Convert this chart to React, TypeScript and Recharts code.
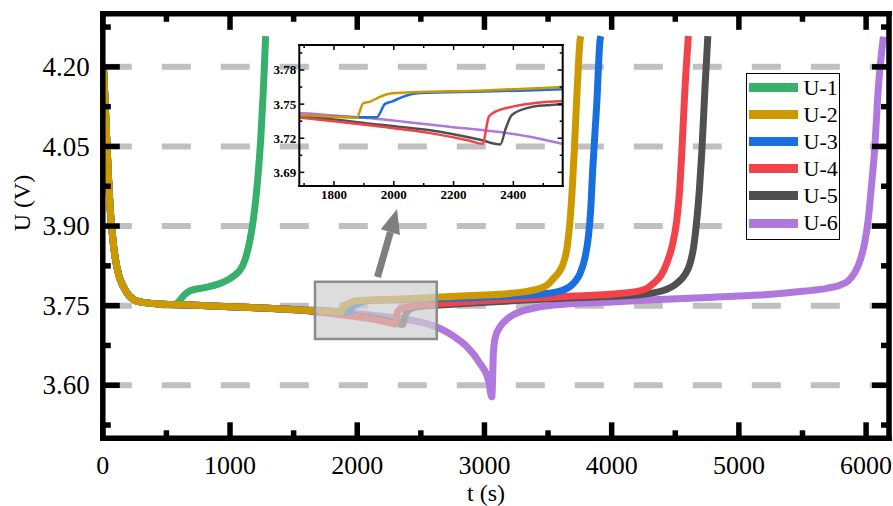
import React from 'react';
import { CartesianGrid, Line, LineChart, ReferenceArea, XAxis, YAxis } from 'recharts';

type Pt = [number, number];

// discharge voltage U (V) against time t (s)
const START: Pt[] = [
  [5, 4.2], [15, 4.15], [31, 4.062], [45, 3.99], [57, 3.936], [75, 3.885], [96, 3.842],
  [125, 3.808], [161, 3.786], [210, 3.768], [292, 3.757], [450, 3.753],
];
const MID: Pt[] = [[686, 3.751], [1000, 3.748], [1300, 3.745], [1550, 3.742]];

const U1: Pt[] = [
  ...START,
  [560, 3.752], [594, 3.757], [640, 3.77], [686, 3.778], [800, 3.784], [900, 3.79], [1000, 3.801],
  [1050, 3.81], [1079, 3.817], [1120, 3.838], [1157, 3.874], [1185, 3.915], [1210, 3.968],
  [1241, 4.062], [1262, 4.156], [1280, 4.258],
];
const U2: Pt[] = [
  ...START, ...MID,
  [1684, 3.7405], [1800, 3.739], [1876, 3.738], [1898, 3.7508], [1921, 3.7522], [1950, 3.756],
  [1977, 3.7587], [2010, 3.7597], [2300, 3.762], [2565, 3.765], [2900, 3.769], [3200, 3.773],
  [3400, 3.78], [3500, 3.79], [3542, 3.801], [3585, 3.813], [3620, 3.83], [3650, 3.86],
  [3673, 3.911], [3690, 3.97], [3705, 4.037], [3730, 4.163], [3752, 4.251], [3758, 4.258],
];
const U3: Pt[] = [
  ...START, ...MID,
  [1684, 3.74], [1800, 3.739], [1943, 3.7385], [1971, 3.7502], [1994, 3.7522], [2038, 3.7572],
  [2088, 3.7597], [2300, 3.761], [2565, 3.763], [2900, 3.765], [3200, 3.768], [3450, 3.772],
  [3600, 3.778], [3673, 3.786], [3720, 3.798], [3752, 3.811], [3790, 3.84], [3817, 3.88],
  [3835, 3.93], [3851, 4.006], [3883, 4.131], [3909, 4.251], [3915, 4.258],
];
const U4: Pt[] = [
  ...START, ...MID,
  [1684, 3.7382], [1800, 3.735], [1954, 3.7303], [2122, 3.7245], [2250, 3.718], [2297, 3.7151],
  [2318, 3.739], [2334, 3.7425], [2401, 3.748], [2479, 3.7513], [2565, 3.7528], [2900, 3.758],
  [3280, 3.763], [3700, 3.768], [4066, 3.773], [4250, 3.78], [4328, 3.792], [4390, 3.808],
  [4433, 3.83], [4475, 3.862], [4512, 3.911], [4535, 3.97], [4551, 4.037], [4577, 4.163],
  [4603, 4.258],
];
const U5: Pt[] = [
  ...START, ...MID,
  [1684, 3.739], [1800, 3.7365], [1954, 3.7318], [2122, 3.727], [2289, 3.7186], [2356, 3.7145],
  [2375, 3.729], [2395, 3.7405], [2457, 3.7473], [2510, 3.749], [2565, 3.75], [2900, 3.755],
  [3280, 3.76], [3700, 3.765], [4197, 3.77], [4400, 3.778], [4512, 3.792], [4575, 3.808],
  [4617, 3.83], [4645, 3.862], [4669, 3.911], [4690, 3.97], [4708, 4.037], [4734, 4.163],
  [4756, 4.258],
];
const U6: Pt[] = [
  ...START, ...MID,
  [1684, 3.742], [1800, 3.74], [1954, 3.7368], [2178, 3.7303], [2379, 3.7245], [2480, 3.72],
  [2565, 3.7148], [2651, 3.707], [2760, 3.692], [2861, 3.673], [2965, 3.641], [3031, 3.61],
  [3058, 3.578], [3064, 3.61], [3070, 3.66], [3085, 3.69], [3122, 3.71], [3180, 3.725],
  [3254, 3.736], [3400, 3.746], [3542, 3.751], [4000, 3.757], [4328, 3.761], [4800, 3.766],
  [5167, 3.77], [5500, 3.777], [5700, 3.783], [5800, 3.789], [5860, 3.797], [5910, 3.812],
  [5953, 3.835], [5990, 3.87], [6018, 3.915], [6042, 3.975], [6065, 4.037], [6097, 4.163],
  [6136, 4.257],
];

const NAMES = ['U-1', 'U-2', 'U-3', 'U-4', 'U-5', 'U-6'];
const COLORS = ['#37b06b', '#cc9900', '#1a6fdf', '#f0434a', '#505050', '#b077dd'];
const SERIES = [U1, U2, U3, U4, U5, U6];
// drawing order, bottom to top
const DRAW_ORDER = [5, 4, 3, 2, 0, 1];

const X_TICKS = [0, 500, 1000, 1500, 2000, 2500, 3000, 3500, 4000, 4500, 5000, 5500, 6000];
const X_MAJOR = [0, 1000, 2000, 3000, 4000, 5000, 6000];
const Y_TICKS = [3.525, 3.6, 3.675, 3.75, 3.825, 3.9, 3.975, 4.05, 4.125, 4.2, 4.275];
const Y_MAJOR = [3.6, 3.75, 3.9, 4.05, 4.2];

const IN_X_TICKS = [1700, 1800, 1900, 2000, 2100, 2200, 2300, 2400, 2500];
const IN_X_MAJOR = [1800, 2000, 2200, 2400];
const IN_Y_TICKS = [3.69, 3.705, 3.72, 3.735, 3.75, 3.765, 3.78, 3.795];
const IN_Y_MAJOR = [3.69, 3.72, 3.75, 3.78];

// zoomed window marked on the main plot
const BOX_T = [1668, 2625];
const BOX_U = [3.687, 3.795];

const SERIF = '"Liberation Serif", "Times New Roman", serif';

const rows = (pts: Pt[]) => pts.map(([t, v]) => ({ t, v }));
const near = (list: number[], v: number) => list.some((m) => Math.abs(m - v) < 1e-6);

type TickCfg = {
  side: 'bottom' | 'top' | 'left' | 'right';
  majors: number[];
  major: number;
  minor: number;
  width: number;
  label?: { size: number; weight?: number; off: number; digits: number };
};

// inward tick marks on all four sides, labels only on the majors
function makeTick(cfg: TickCfg) {
  return (props: any) => {
    const { x, y, payload } = props;
    const v = payload.value;
    const isMajor = near(cfg.majors, v);
    const len = isMajor ? cfg.major : cfg.minor;
    let x2 = x;
    let y2 = y;
    if (cfg.side === 'bottom') y2 = y - len;
    if (cfg.side === 'top') y2 = y + len;
    if (cfg.side === 'left') x2 = x + len;
    if (cfg.side === 'right') x2 = x - len;
    const lab = cfg.label;
    const style = { fontFamily: SERIF, fontSize: lab?.size, fontWeight: lab?.weight ?? 400 };
    return (
      <g>
        <line x1={x} y1={y} x2={x2} y2={y2} stroke="#000" strokeWidth={cfg.width} />
        {lab && isMajor && cfg.side === 'bottom' && (
          <text x={x} y={y + lab.off} dy={lab.size * 0.34} textAnchor="middle" style={style} fill="#000">
            {v.toFixed(lab.digits)}
          </text>
        )}
        {lab && isMajor && cfg.side === 'left' && (
          <text x={x - lab.off} y={y} dy={lab.size * 0.34} textAnchor="end" style={style} fill="#000">
            {v.toFixed(lab.digits)}
          </text>
        )}
      </g>
    );
  };
}

const mainBottom = makeTick({ side: 'bottom', majors: X_MAJOR, major: 16, minor: 8, width: 5.5, label: { size: 26, off: 26.5, digits: 0 } });
const mainTop = makeTick({ side: 'top', majors: X_MAJOR, major: 16, minor: 8, width: 5.5 });
const mainLeft = makeTick({ side: 'left', majors: Y_MAJOR, major: 17, minor: 8, width: 5.5, label: { size: 27, off: 13, digits: 2 } });
const mainRight = makeTick({ side: 'right', majors: Y_MAJOR, major: 17, minor: 8, width: 5.5 });

const inBottom = makeTick({ side: 'bottom', majors: IN_X_MAJOR, major: 5, minor: 3, width: 1.5, label: { size: 13, weight: 700, off: 9, digits: 0 } });
const inTop = makeTick({ side: 'top', majors: IN_X_MAJOR, major: 5, minor: 3, width: 1.5 });
const inLeft = makeTick({ side: 'left', majors: IN_Y_MAJOR, major: 5, minor: 3, width: 1.5, label: { size: 13, weight: 700, off: 3, digits: 2 } });
const inRight = makeTick({ side: 'right', majors: IN_Y_MAJOR, major: 5, minor: 3, width: 1.5 });

const frame = (w: number) => ({ stroke: '#000', strokeWidth: w, strokeLinecap: 'square' as const });

function MainChart() {
  return (
    <LineChart width={893} height={506} margin={{ top: 12.8, right: 3, bottom: 0, left: 0 }}>
      <CartesianGrid
        xAxisId="b"
        yAxisId="l"
        vertical={false}
        horizontalValues={Y_MAJOR}
        stroke="#c0c0c0"
        strokeWidth={6}
        strokeDasharray="29 30"
      />
      <XAxis
        xAxisId="b" dataKey="t" type="number" domain={[0, 6180]} ticks={X_TICKS} interval={0}
        height={67.7} tickSize={0} tickMargin={0} tickLine={false} tick={mainBottom} axisLine={frame(5.5)} allowDataOverflow
      />
      <XAxis
        xAxisId="t" orientation="top" dataKey="t" type="number" domain={[0, 6180]} ticks={X_TICKS} interval={0}
        height={1} tickSize={0} tickMargin={0} tickLine={false} tick={mainTop} axisLine={frame(5.5)} allowDataOverflow
      />
      <YAxis
        yAxisId="l" type="number" domain={[3.5, 4.3]} ticks={Y_TICKS} interval={0}
        width={102.8} tickSize={0} tickMargin={0} tickLine={false} tick={mainLeft} axisLine={frame(5.5)} allowDataOverflow
      />
      <YAxis
        yAxisId="r" orientation="right" type="number" domain={[3.5, 4.3]} ticks={Y_TICKS} interval={0}
        width={1} tickSize={0} tickMargin={0} tickLine={false} tick={mainRight} axisLine={frame(5.5)} allowDataOverflow
      />
      {DRAW_ORDER.map((i) => (
        <Line
          key={NAMES[i]}
          xAxisId="b"
          yAxisId="l"
          data={rows(SERIES[i])}
          dataKey="v"
          name={NAMES[i]}
          type="monotone"
          stroke={COLORS[i]}
          strokeWidth={7}
          strokeLinejoin="round"
          dot={false}
          isAnimationActive={false}
        />
      ))}
      <ReferenceArea
        xAxisId="b"
        yAxisId="l"
        x1={BOX_T[0]}
        x2={BOX_T[1]}
        y1={BOX_U[0]}
        y2={BOX_U[1]}
        fill="#cfcfcf"
        fillOpacity={0.7}
        stroke="#8c8c8c"
        strokeWidth={2.5}
        zIndex={900}
      />
    </LineChart>
  );
}

function InsetChart() {
  return (
    <LineChart width={330} height={185} margin={{ top: 9, right: 21.3, bottom: 0, left: 0 }}>
      <XAxis
        xAxisId="b" dataKey="t" type="number" domain={[1684, 2565]} ticks={IN_X_TICKS} interval={0}
        height={34} tickSize={0} tickMargin={0} tickLine={false} tick={inBottom} axisLine={frame(2)} allowDataOverflow
      />
      <XAxis
        xAxisId="t" orientation="top" dataKey="t" type="number" domain={[1684, 2565]} ticks={IN_X_TICKS} interval={0}
        height={1} tickSize={0} tickMargin={0} tickLine={false} tick={inTop} axisLine={frame(2)} allowDataOverflow
      />
      <YAxis
        yAxisId="l" type="number" domain={[3.678, 3.802]} ticks={IN_Y_TICKS} interval={0}
        width={44.3} tickSize={0} tickMargin={0} tickLine={false} tick={inLeft} axisLine={frame(2)} allowDataOverflow
      />
      <YAxis
        yAxisId="r" orientation="right" type="number" domain={[3.678, 3.802]} ticks={IN_Y_TICKS} interval={0}
        width={1} tickSize={0} tickMargin={0} tickLine={false} tick={inRight} axisLine={frame(2)} allowDataOverflow
      />
      {DRAW_ORDER.filter((i) => i !== 0).map((i) => (
        <Line
          key={NAMES[i]}
          xAxisId="b"
          yAxisId="l"
          data={rows(SERIES[i])}
          dataKey="v"
          type="monotone"
          stroke={COLORS[i]}
          strokeWidth={2.5}
          strokeLinejoin="round"
          dot={false}
          isAnimationActive={false}
        />
      ))}
    </LineChart>
  );
}

function LegendBox() {
  return (
    <div
      style={{
        position: 'absolute', left: 746, top: 73, width: 94, height: 167, boxSizing: 'border-box',
        border: '1.5px solid #000', background: '#fff', fontFamily: SERIF,
      }}
    >
      {NAMES.map((n, i) => (
        <div key={n} style={{ height: 27.1, display: 'flex', alignItems: 'center' }}>
          <span style={{ display: 'inline-block', width: 49, height: 9, marginLeft: 1.5, background: COLORS[i] }} />
          <span style={{ marginLeft: 6, fontSize: 22, lineHeight: '22px', color: '#000' }}>{n}</span>
        </div>
      ))}
    </div>
  );
}

const titleStyle = { fontFamily: SERIF, fontSize: 24 };

export default function App() {
  return (
    <div style={{ position: 'absolute', left: 0, top: 0, width: 893, height: 506, background: '#fff', fontFamily: SERIF }}>
      <MainChart />
      <div style={{ position: 'absolute', left: 255, top: 35 }}>
        <InsetChart />
      </div>
      <LegendBox />
      <svg width={893} height={506} style={{ position: 'absolute', left: 0, top: 0, pointerEvents: 'none' }}>
        <line x1={377.5} y1={277} x2={390.4} y2={232.1} stroke="#7f7f7f" strokeWidth={7} />
        <polygon points="400,234.9 380.8,229.3 397,209" fill="#7f7f7f" />
        <text x={22} y={203} transform="rotate(-90 22 203)" textAnchor="middle" dominantBaseline="central" style={titleStyle}>
          U (V)
        </text>
        <text x={486} y={493} textAnchor="middle" dominantBaseline="central" style={titleStyle}>
          t (s)
        </text>
      </svg>
    </div>
  );
}
